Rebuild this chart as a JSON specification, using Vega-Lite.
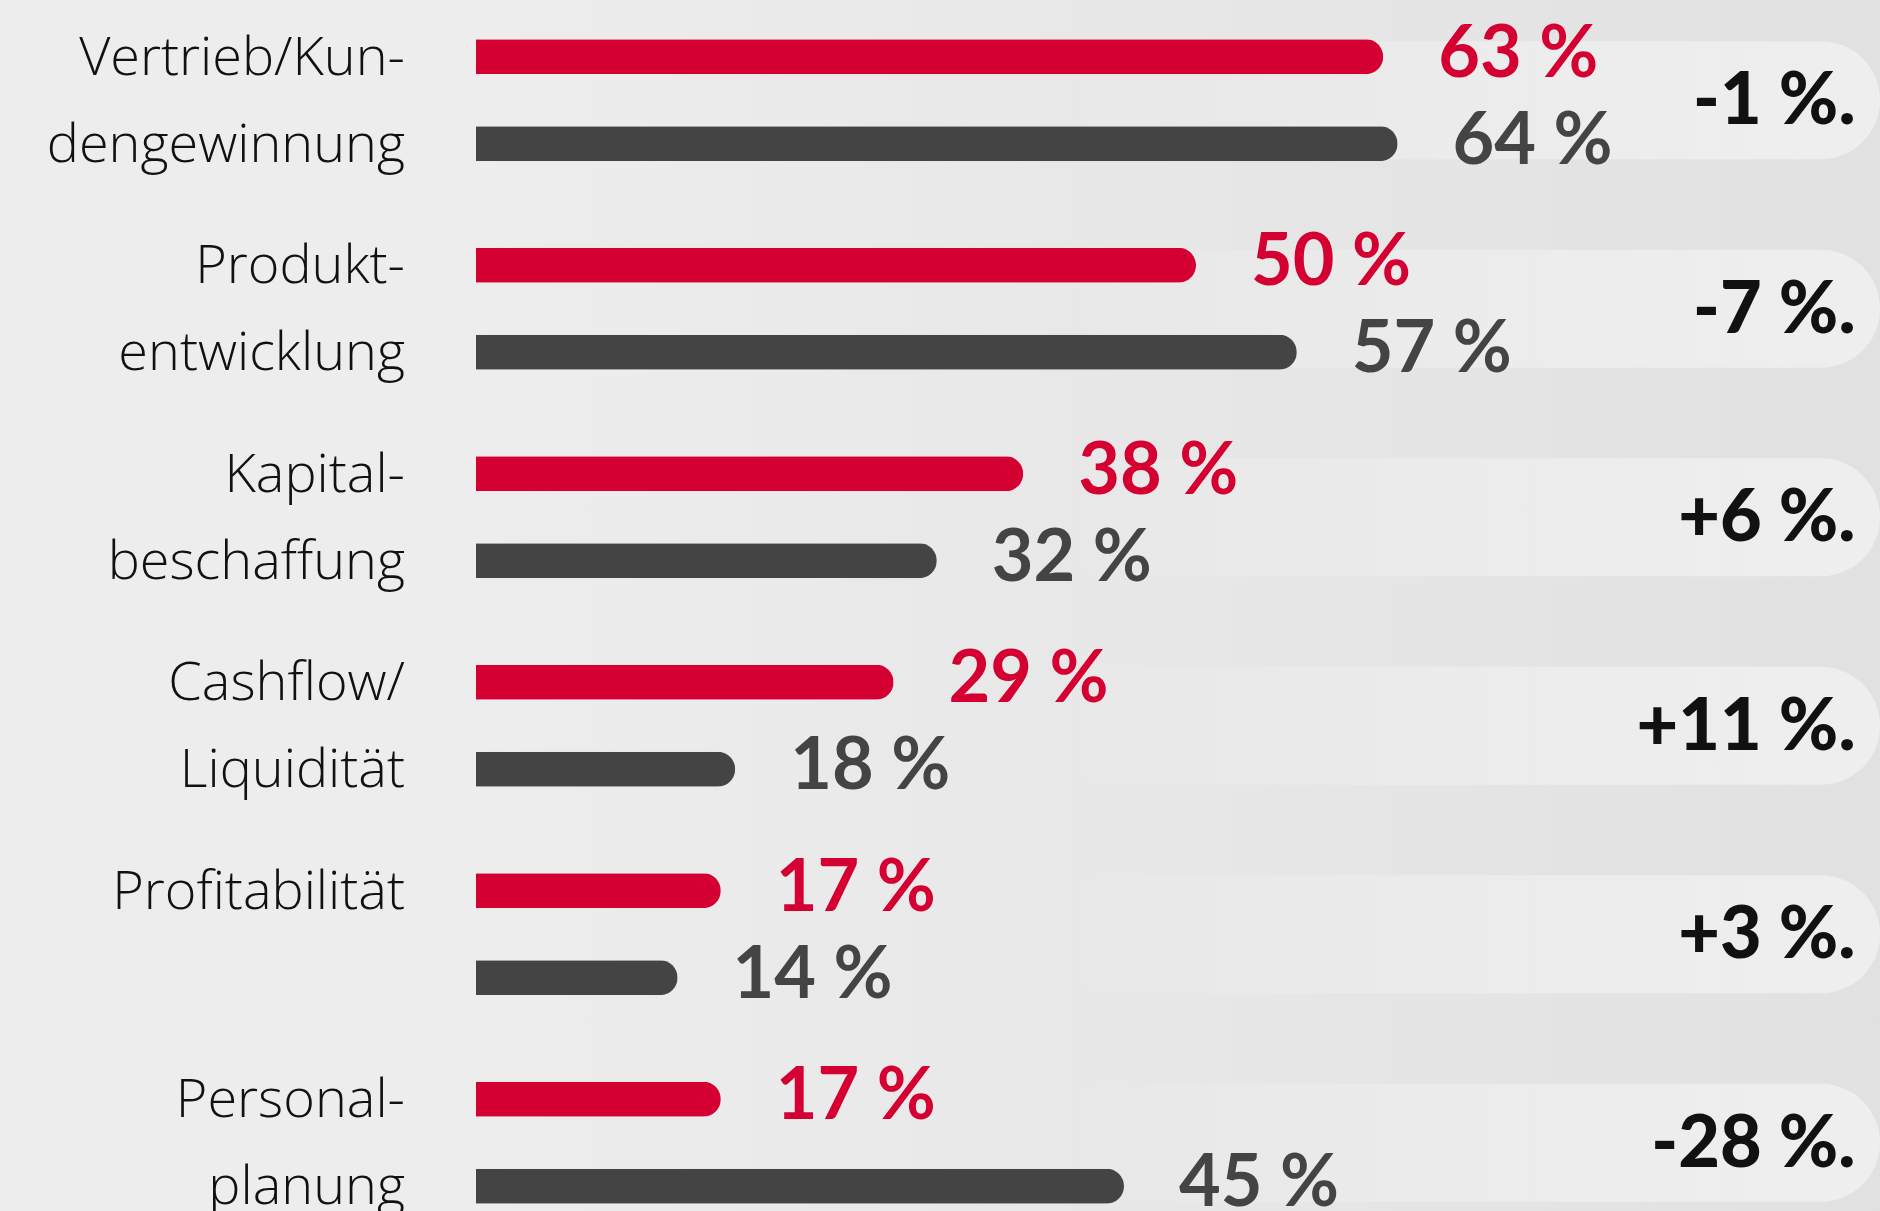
{
  "$schema": "https://vega.github.io/schema/vega-lite/v6.json",
  "width": 1404,
  "height": 1211,
  "autosize": {"type": "none"},
  "padding": {"left": 476, "top": 0, "right": 0, "bottom": 0},
  "background": "#ededed",
  "view": {
    "fill": {
      "gradient": "linear", "x1": 0, "x2": 1, "y1": 0, "y2": 0,
      "stops": [
        {"offset": 0, "color": "#ededed"},
        {"offset": 1, "color": "#e1e1e1"}
      ]
    }
  },
  "config": {"view": {"stroke": null}, "font": "Lato"},
  "datasets": {
    "bars": [
      {"cat": "Vertrieb/Kundengewinnung", "series": "aktuell", "value": 63, "line": "Vertrieb/Kun-"},
      {"cat": "Vertrieb/Kundengewinnung", "series": "Vorjahr", "value": 64, "line": "dengewinnung"},
      {"cat": "Produktentwicklung", "series": "aktuell", "value": 50, "line": "Produkt-"},
      {"cat": "Produktentwicklung", "series": "Vorjahr", "value": 57, "line": "entwicklung"},
      {"cat": "Kapitalbeschaffung", "series": "aktuell", "value": 38, "line": "Kapital-"},
      {"cat": "Kapitalbeschaffung", "series": "Vorjahr", "value": 32, "line": "beschaffung"},
      {"cat": "Cashflow/Liquidität", "series": "aktuell", "value": 29, "line": "Cashflow/"},
      {"cat": "Cashflow/Liquidität", "series": "Vorjahr", "value": 18, "line": "Liquidität"},
      {"cat": "Profitabilität", "series": "aktuell", "value": 17, "line": "Profitabilität"},
      {"cat": "Profitabilität", "series": "Vorjahr", "value": 14, "line": ""},
      {"cat": "Personalplanung", "series": "aktuell", "value": 17, "line": "Personal-"},
      {"cat": "Personalplanung", "series": "Vorjahr", "value": 45, "line": "planung"}
    ],
    "deltas": [
      {"cat": "Vertrieb/Kundengewinnung", "delta": "-1 %."},
      {"cat": "Produktentwicklung", "delta": "-7 %."},
      {"cat": "Kapitalbeschaffung", "delta": "+6 %."},
      {"cat": "Cashflow/Liquidität", "delta": "+11 %."},
      {"cat": "Profitabilität", "delta": "+3 %."},
      {"cat": "Personalplanung", "delta": "-28 %."}
    ]
  },
  "layer": [
    {
      "data": {"name": "deltas"},
      "mark": {
        "type": "bar",
        "height": {"band": 0.566},
        "cornerRadius": 59,
        "color": {
          "gradient": "linear", "x1": 0, "x2": 1, "y1": 0, "y2": 0,
          "stops": [
            {"offset": 0, "color": "rgba(255,255,255,0)"},
            {"offset": 0.55, "color": "rgba(255,255,255,0.3)"},
            {"offset": 1, "color": "rgba(255,255,255,0.45)"}
          ]
        }
      },
      "encoding": {
        "y": {"field": "cat", "type": "nominal", "sort": null, "axis": null,
              "scale": {"domain": ["Vertrieb/Kundengewinnung", "Produktentwicklung", "Kapitalbeschaffung", "Cashflow/Liquidität", "Profitabilität", "Personalplanung"], "range": [-4, 1247], "paddingInner": 0, "paddingOuter": 0}},
        "x": {"datum": 40, "type": "quantitative", "scale": {"domain": [0, 97.5], "nice": false, "zero": true}, "axis": null},
        "x2": {"datum": 97.5}
      }
    },
    {
      "data": {"name": "bars"},
      "mark": {"type": "bar", "cornerRadiusEnd": 17.5},
      "encoding": {
        "y": {"field": "cat", "type": "nominal", "sort": null, "axis": null},
        "yOffset": {"field": "series", "type": "nominal", "sort": ["aktuell", "Vorjahr"], "scale": {"paddingInner": 0.598, "paddingOuter": 0.498}},
        "x": {"field": "value", "type": "quantitative", "scale": {"domain": [0, 97.5], "nice": false}, "axis": null},
        "color": {"field": "series", "type": "nominal", "legend": null, "scale": {"domain": ["aktuell", "Vorjahr"], "range": ["#d50032", "#444444"]}}
      }
    },
    {
      "data": {"name": "bars"},
      "transform": [{"calculate": "datum.value + ' %'", "as": "pct"}],
      "mark": {"type": "text", "align": "left", "baseline": "middle", "dx": 55, "dy": -2, "fontSize": 72, "fontWeight": "bold"},
      "encoding": {
        "y": {"field": "cat", "type": "nominal", "sort": null, "axis": null},
        "yOffset": {"field": "series", "type": "nominal", "sort": ["aktuell", "Vorjahr"]},
        "x": {"field": "value", "type": "quantitative"},
        "text": {"field": "pct"},
        "color": {"field": "series", "type": "nominal", "legend": null}
      }
    },
    {
      "data": {"name": "bars"},
      "mark": {"type": "text", "align": "right", "baseline": "middle", "dx": -71, "dy": 2, "fontSize": 54, "font": "Open Sans", "fontWeight": 300, "color": "#111111"},
      "encoding": {
        "y": {"field": "cat", "type": "nominal", "sort": null, "axis": null},
        "yOffset": {"field": "series", "type": "nominal", "sort": ["aktuell", "Vorjahr"]},
        "x": {"datum": 0, "type": "quantitative"},
        "text": {"field": "line"}
      }
    },
    {
      "data": {"name": "deltas"},
      "mark": {"type": "text", "align": "right", "baseline": "middle", "dy": 2, "fontSize": 72, "fontWeight": 900, "color": "#111111"},
      "encoding": {
        "y": {"field": "cat", "type": "nominal", "sort": null, "axis": null},
        "x": {"datum": 95.8, "type": "quantitative"},
        "text": {"field": "delta"}
      }
    }
  ]
}
